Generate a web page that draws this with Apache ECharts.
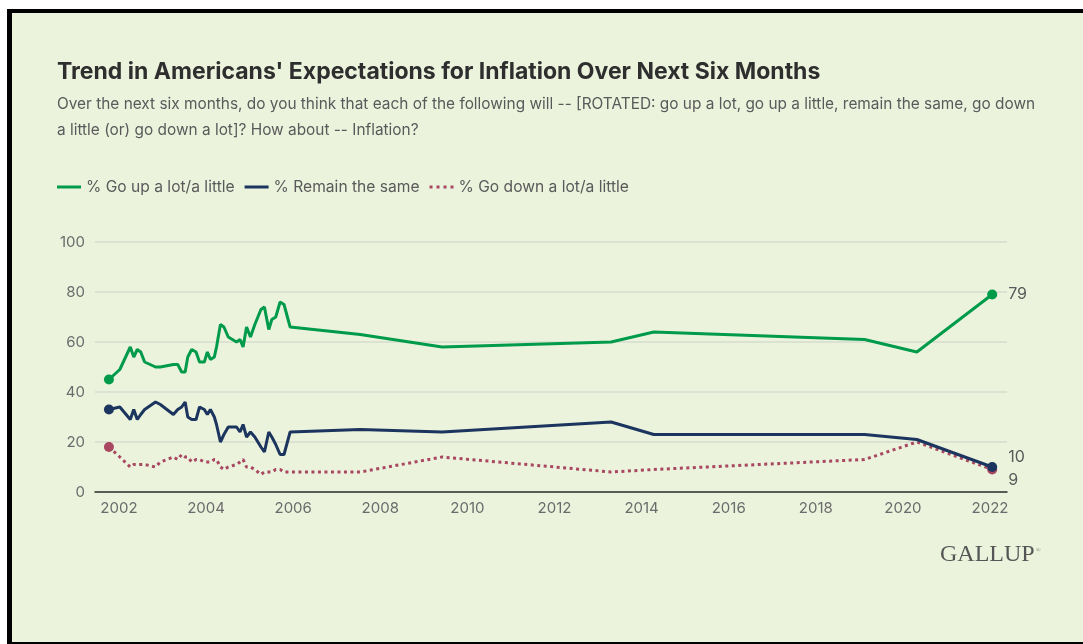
<!DOCTYPE html>
<html>
<head>
<meta charset="utf-8">
<title>Trend in Americans' Expectations for Inflation Over Next Six Months</title>
<script src="https://cdn.jsdelivr.net/npm/echarts@6/dist/echarts.min.js"></script>
<style>
  html, body { margin: 0; padding: 0; background: #ffffff; }
  #frame {
    position: absolute; left: 7px; top: 9px; width: 1076px; height: 635px;
    box-sizing: border-box; background: #ebf3dd;
    border-left: 5px solid #000; border-top: 4px solid #000; border-bottom: 2px solid #000;
  }
  #chart { position: absolute; left: 0; top: 0; width: 1083px; height: 644px; }
</style>
</head>
<body>
<div id="frame"></div>
<div id="chart"></div>
<script>
// Survey dates as decimal years
const surveyDates = [
  2001.77, 2002.02, 2002.26, 2002.34, 2002.42, 2002.50, 2002.59, 2002.84, 2002.95,
  2003.25, 2003.35, 2003.44, 2003.52, 2003.58, 2003.67, 2003.77, 2003.85, 2003.96,
  2004.03, 2004.10, 2004.19, 2004.24, 2004.33, 2004.41, 2004.51, 2004.70, 2004.78,
  2004.85, 2004.93, 2005.02, 2005.12, 2005.26, 2005.34, 2005.44, 2005.51, 2005.60,
  2005.70, 2005.79, 2005.93, 2007.54, 2009.42, 2013.30, 2014.28, 2019.12, 2020.32,
  2022.05
];

// % Go up a lot/a little
const goUp = [
  45, 49, 58, 54, 57, 56, 52, 50, 50,
  51, 51, 48, 48, 54, 57, 56, 52, 52,
  56, 53, 54, 58, 67, 66, 62, 60, 61,
  58, 66, 62, 67, 73, 74, 65, 69, 70,
  76, 75, 66, 63, 58, 60, 64, 61, 56,
  79
];

// % Remain the same
const remainSame = [
  33, 34, 29, 33, 29, 31, 33, 36, 35,
  31, 33, 34, 36, 30, 29, 29, 34, 33,
  31, 33, 30, 27, 20, 23, 26, 26, 24,
  27, 22, 24, 22, 18, 16, 24, 22, 19,
  15, 15, 24, 25, 24, 28, 23, 23, 21,
  10
];

// % Go down a lot/a little
const goDown = [
  18, 14, 10, 11, 11, 11, 11, 10, 12,
  14, 13, 15, 14, 14, 12, 13, 13, 12,
  12, 12, 13, 13, 10, 9, 10, 11, 12,
  13, 10, 10, 9, 7, 8, 8, 8, 9,
  9, 8, 8, 8, 14, 8, 9, 13, 20,
  9
];

const yearTicks = [2002, 2004, 2006, 2008, 2010, 2012, 2014, 2016, 2018, 2020, 2022];
const valueTicks = [0, 20, 40, 60, 80, 100];

const seriesNames = ['% Go up a lot/a little', '% Remain the same', '% Go down a lot/a little'];
const colors = { up: '#009b4a', same: '#1c355e', down: '#a8475f' };

const FONT = 'Inter, "Noto Sans", sans-serif';

// Legend swatches: a solid bar and a row of four dots
const SOLID_ICON = 'path://M0,0H24V3H0Z';
const DOTTED_ICON = 'path://M0,0H3V3H0Z M7,0H10V3H7Z M14,0H17V3H14Z M21,0H24V3H21Z';

function pairs(values) {
  return surveyDates.map((d, i) => [d, values[i]]);
}

// Dots on the first and last survey; value label on the last one
function endpoints(values, color, labelOffset) {
  const last = values.length - 1;
  return {
    type: 'scatter',
    symbol: 'circle',
    symbolSize: 10,
    itemStyle: { color: color, opacity: 1 },
    silent: true,
    z: 5,
    data: [
      { value: [surveyDates[0], values[0]] },
      {
        value: [surveyDates[last], values[last]],
        label: {
          show: true, position: 'right', distance: 11, offset: labelOffset,
          formatter: String(values[last]),
          color: '#5a5a5a', fontSize: 16, fontFamily: FONT
        }
      }
    ]
  };
}

const chart = echarts.init(document.getElementById('chart'), null, { renderer: 'canvas' });

chart.setOption({
  backgroundColor: 'transparent',
  animation: false,
  title: [
    {
      text: "Trend in Americans' Expectations for Inflation Over Next Six Months",
      left: 57, top: 58, padding: 0,
      textStyle: { fontFamily: FONT, fontSize: 23, fontWeight: 'bold', color: '#2e2e2e', lineHeight: 28 }
    },
    {
      text: 'Over the next six months, do you think that each of the following will -- [ROTATED: go up a lot, go up a little, remain the same, go down\na little (or) go down a lot]? How about -- Inflation?',
      left: 57, top: 91, padding: 0,
      textStyle: { fontFamily: FONT, fontSize: 15.4, fontWeight: 'normal', color: '#5a5a5a', lineHeight: 26 }
    }
  ],
  legend: {
    data: [
      { name: seriesNames[0], icon: SOLID_ICON },
      { name: seriesNames[1], icon: SOLID_ICON },
      { name: seriesNames[2], icon: DOTTED_ICON }
    ],
    left: 57, top: 179, padding: 0,
    itemWidth: 24, itemHeight: 3, itemGap: 10,
    itemStyle: { borderWidth: 0 },
    lineStyle: { width: 0 },
    textStyle: { fontFamily: FONT, fontSize: 15.6, color: '#5a5a5a' },
    selectedMode: false
  },
  grid: { left: 95, right: 76, top: 242, bottom: 152, containLabel: false },
  xAxis: {
    type: 'value',
    min: 2001.45,
    max: 2022.39,
    splitLine: { show: false },
    axisTick: { show: false },
    axisLine: { show: true, lineStyle: { color: '#2e2e2e', width: 1.5 } },
    axisLabel: {
      customValues: yearTicks,
      formatter: v => String(v),
      color: '#6b6b6b', fontSize: 15, fontFamily: FONT, margin: 9
    }
  },
  yAxis: {
    type: 'value',
    min: 0, max: 100, interval: 20,
    axisLine: { show: false },
    axisTick: { show: false },
    splitLine: { lineStyle: { color: '#d6ddcc', width: 1.5 } },
    axisLabel: {
      customValues: valueTicks,
      color: '#6b6b6b', fontSize: 15, fontFamily: FONT, margin: 10
    }
  },
  series: [
    {
      name: seriesNames[0], type: 'line', data: pairs(goUp),
      symbol: 'none', color: colors.up,
      lineStyle: { color: colors.up, width: 3 }, z: 3
    },
    {
      name: seriesNames[2], type: 'line', data: pairs(goDown),
      symbol: 'none', color: colors.down,
      lineStyle: { color: colors.down, width: 3, type: [3, 3.5] }, z: 2
    },
    {
      name: seriesNames[1], type: 'line', data: pairs(remainSame),
      symbol: 'none', color: colors.same,
      lineStyle: { color: colors.same, width: 3 }, z: 3
    },
    endpoints(goUp, colors.up, [0, 0]),
    endpoints(goDown, colors.down, [0, 11]),
    endpoints(remainSame, colors.same, [0, -10])
  ],
  graphic: [
    {
      type: 'text', left: 940, top: 543,
      style: { text: 'GALLUP', font: '24px "Liberation Serif", "DejaVu Serif", serif', fill: '#555555' }
    },
    {
      type: 'text', left: 1036, top: 547,
      style: { text: '®', font: '6px "Liberation Serif", serif', fill: '#777777' }
    }
  ]
});
</script>
</body>
</html>
